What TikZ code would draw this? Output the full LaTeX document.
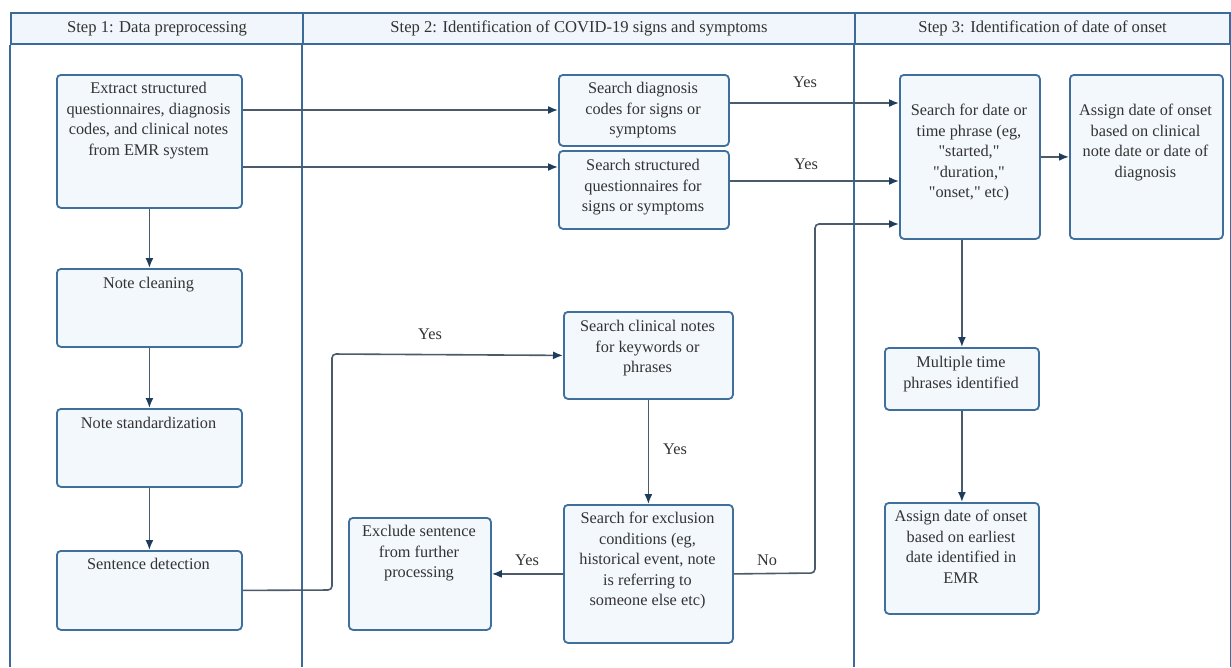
\documentclass[tikz,border=0pt]{standalone}
\usepackage{fontspec}
\setmainfont{Liberation Serif}[Ligatures=TeXOff]
\usetikzlibrary{arrows.meta}
\definecolor{framec}{HTML}{3D6B99}
\definecolor{headc}{HTML}{F0F6FB}
\definecolor{boxc}{HTML}{3F6F9C}
\definecolor{boxfill}{HTML}{F3F8FD}
\definecolor{linec}{HTML}{4B5B6B}
\definecolor{tipc}{HTML}{1E3D5C}
\definecolor{txtc}{HTML}{333333}
\newcommand\mybox[7]{%
  \node[box, anchor=north west, minimum width={#4-#2}, minimum height={#5-#3}] (#1) at (#2,#3) {};
  \node[txt, anchor=north] (#1t) at ({(#2+#4)/2},#6+2) {#7};
}
\begin{document}
\begin{tikzpicture}[x=1pt,y=-1pt,
  lane/.style={draw=framec, line width=2pt},
  header/.style={draw=framec, line width=2pt, fill=headc, anchor=north west, minimum height=31pt, inner sep=0pt, text=txtc, font=\fontsize{16.6}{19}\selectfont},
  box/.style={draw=boxc, line width=1.8pt, fill=boxfill, rounded corners=4pt, inner sep=0pt},
  txt/.style={align=center, inner sep=0pt, text=txtc, font=\fontsize{16.3}{20.5}\selectfont},
  lbl/.style={inner sep=0pt, text=txtc, font=\fontsize{16.3}{19}\selectfont},
  conn/.style={draw=linec, line width=1.6pt, rounded corners=4pt, -{Latex[length=10pt,width=8pt,color=tipc]}}
]
\useasboundingbox (0,0) rectangle (1231,667);
\fill[white] (0,0) rectangle (1231,667);
% swimlanes
\node[header, minimum width=292pt] (h1) at (10,12) {Step 1: Data preprocessing};
\node[header, minimum width=552pt] (h2) at (302,12) {Step 2: Identification of COVID-19 signs and symptoms};
\node[header, minimum width=375pt] (h3) at (854,12) {Step 3: Identification of date of onset};
\draw[lane] (h1.south west) -- (h1.south west |- 0,667);
\draw[lane] (h2.south west) -- (h2.south west |- 0,667);
\draw[lane] (h3.south west) -- (h3.south west |- 0,667);
\draw[lane] (h3.south east) -- (h3.south east |- 0,667);
% step 1 boxes
\mybox{ext}{56}{74}{241}{207}{80}{Extract structured\\questionnaires, diagnosis\\codes, and clinical notes\\from EMR system}
\mybox{clean}{56}{268}{241}{346}{275}{Note cleaning}
\mybox{std}{56}{408}{241}{486}{415}{Note standardization}
\mybox{sent}{56}{550}{241}{629}{556}{Sentence detection}
% step 2 boxes
\mybox{diag}{558}{74}{728}{145}{80}{Search diagnosis\\codes for signs or\\symptoms}
\mybox{struct}{558}{150}{728}{228}{157}{Search structured\\questionnaires for\\signs or symptoms}
\mybox{clin}{563}{311}{732}{398}{318}{Search clinical notes\\for keywords or\\phrases}
\mybox{excl}{563}{504}{732}{642}{510}{Search for exclusion\\conditions (eg,\\historical event, note\\is referring to\\someone else etc)}
\mybox{exclude}{348}{517}{490}{629}{523}{Exclude sentence\\from further\\processing}
% step 3 boxes
\mybox{date}{899}{74}{1039}{238}{102}{Search for date or\\time phrase (eg,\\"started,"\\"duration,"\\"onset," etc)}
\mybox{asgA}{1069}{74}{1222}{238}{102}{Assign date of onset\\based on clinical\\note date or date of\\diagnosis}
\mybox{mult}{884}{347}{1038}{409}{354}{Multiple time\\phrases identified}
\mybox{asgB}{884}{502}{1038}{613}{508}{Assign date of onset\\based on earliest\\date identified in\\EMR}
% connectors
\draw[conn] (ext.south) -- (clean.north);
\draw[conn] (clean.south) -- (std.north);
\draw[conn] (std.south) -- (sent.north);
\draw[conn] (ext.east |- 0,110) -- (diag.west |- 0,110);
\draw[conn] (ext.east |- 0,167) -- (struct.west |- 0,167);
\draw[conn] (diag.east |- 0,103) -- (date.west |- 0,103);
\draw[conn] (struct.east |- 0,181) -- (date.west |- 0,181);
\draw[conn] (sent.east) -- (332,590) -- (332,354) -- (clin.west);
\draw[conn] (clin.south) -- (excl.north);
\draw[conn] (excl.west) -- (exclude.east);
\draw[conn] (excl.east) -- (815,573) -- (815,224) -- (date.west |- 0,224);
\draw[conn] (date.east) -- (asgA.west);
\draw[conn] (mult.north |- date.south) -- (mult.north);
\draw[conn] (mult.south) -- (asgB.north);
% labels
\node[lbl] (y1) at (805,82) {Yes};
\node[lbl] (y2) at (806,164) {Yes};
\node[lbl] (y3) at (430,334) {Yes};
\node[lbl] (y4) at (675,449) {Yes};
\node[lbl] (y5) at (527,560) {Yes};
\node[lbl] (n1) at (767,560) {No};
\end{tikzpicture}
\end{document}
